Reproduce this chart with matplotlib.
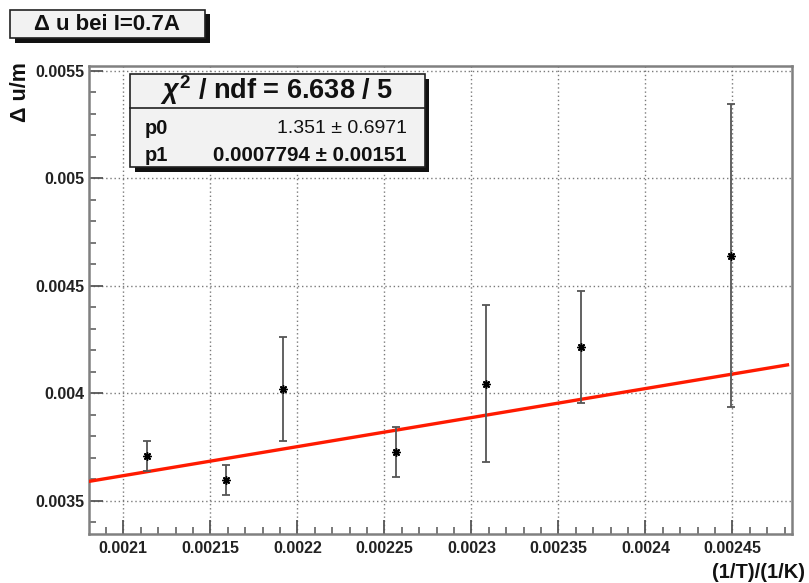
import matplotlib
matplotlib.use("Agg")
import matplotlib.pyplot as plt
from matplotlib.patches import Rectangle
from matplotlib.ticker import FixedLocator, FixedFormatter, MultipleLocator
import numpy as np

plt.rcParams['font.family'] = ['Liberation Sans', 'DejaVu Sans']
plt.rcParams['font.weight'] = 'bold'
plt.rcParams['mathtext.fontset'] = 'custom'
plt.rcParams['mathtext.rm'] = 'Liberation Sans:bold'
plt.rcParams['mathtext.it'] = 'Liberation Sans:italic:bold'
plt.rcParams['mathtext.bf'] = 'Liberation Sans:bold'

# ---- data ----
inv_T = [0.0021138, 0.0021590, 0.0021919, 0.0022564, 0.0023085, 0.0023629, 0.0024494]
delta_u = [0.003708, 0.003596, 0.004019, 0.003725, 0.004045, 0.004216, 0.004641]
delta_u_err = [0.000072, 0.0000715, 0.000241, 0.000117, 0.000366, 0.000262, 0.000706]

fit_p0 = 1.351        # slope
fit_p1 = 0.0007794    # intercept
fit_p0_err = 0.6971
fit_p1_err = 0.00151
chi2 = 6.638
ndf = 5

x_ticks = [0.0021, 0.00215, 0.0022, 0.00225, 0.0023, 0.00235, 0.0024, 0.00245]
x_tick_labels = ["0.0021", "0.00215", "0.0022", "0.00225", "0.0023", "0.00235", "0.0024", "0.00245"]
y_ticks = [0.0035, 0.004, 0.0045, 0.005, 0.0055]
y_tick_labels = ["0.0035", "0.004", "0.0045", "0.005", "0.0055"]

title = "\u0394 u bei I=0.7A"
x_title = "(1/T)/(1/K)"
y_title = "\u0394 u/m"

x_range = (0.0020803, 0.0024839)
y_range = (0.003345, 0.005523)

# ---- figure ----
W, H = 809, 583
fig = plt.figure(figsize=(W / 100, H / 100), dpi=100)
fig.patch.set_facecolor('white')

def fx(px):
    return px / W

def fy(py):
    return 1 - py / H

ax_l, ax_r, ax_t, ax_b = 89, 791.5, 66, 534
ax = fig.add_axes([fx(ax_l), fy(ax_b), fx(ax_r) - fx(ax_l), fy(ax_t) - fy(ax_b)])
ax.set_xlim(*x_range)
ax.set_ylim(*y_range)

for sp in ax.spines.values():
    sp.set_color('#808080')
    sp.set_linewidth(1.8)

ax.xaxis.set_major_locator(FixedLocator(x_ticks))
ax.xaxis.set_major_formatter(FixedFormatter(x_tick_labels))
ax.xaxis.set_minor_locator(MultipleLocator(0.00001))
ax.yaxis.set_major_locator(FixedLocator(y_ticks))
ax.yaxis.set_major_formatter(FixedFormatter(y_tick_labels))
ax.yaxis.set_minor_locator(MultipleLocator(0.0001))

ax.tick_params(axis='both', which='major', direction='in', length=10, width=1.3,
               color='#555555', labelsize=11.5, pad=3)
ax.tick_params(axis='both', which='minor', direction='in', length=5, width=1.1,
               color='#555555')
ax.tick_params(axis='x', which='major', pad=5)
for lab in ax.get_xticklabels() + ax.get_yticklabels():
    lab.set_fontweight('bold')
    lab.set_color('#222222')

ax.grid(True, which='major', linestyle=(0, (1, 2)), color='#7a7a7a', linewidth=1.0)
ax.set_axisbelow(True)

# fit line
xl = np.array([x_range[0], 0.0024816])
ax.plot(xl, fit_p1 + fit_p0 * xl, color='#ff1a00', linewidth=2.4, zorder=3)

# data points
ax.errorbar(inv_T, delta_u, yerr=delta_u_err, fmt='none', ecolor='#555555',
            elinewidth=1.3, capsize=3, capthick=1.3, zorder=4)
ax.plot(inv_T, delta_u, linestyle='none', marker=(8, 2, 0), markersize=6,
        markeredgewidth=1.0, color='black', zorder=5)
ax.plot(inv_T, delta_u, linestyle='none', marker='s', markersize=2.5,
        color='black', zorder=5)

# axis titles
fig.text(fx(805), fy(573), x_title, ha='right', va='center', fontsize=14.5,
         fontweight='bold', color='#111111')
fig.text(fx(21), fy(62), y_title, ha='center', va='top', rotation=90, fontsize=15.5,
         fontweight='bold', color='#111111')

# title box with shadow
def box(x0, y0, x1, y1, sh=4.5, fc='#f2f2f2'):
    fig.patches.append(Rectangle((fx(x0 + sh), fy(y1 + sh)), fx(x1 - x0), fy(y0) - fy(y1),
                                 transform=fig.transFigure, facecolor='#111111',
                                 edgecolor='none', zorder=10))
    fig.patches.append(Rectangle((fx(x0), fy(y1)), fx(x1 - x0), fy(y0) - fy(y1),
                                 transform=fig.transFigure, facecolor=fc,
                                 edgecolor='#222222', linewidth=1.2, zorder=11))

box(10, 10, 205, 38)
fig.text(fx(107), fy(24.5), title, ha='center', va='center', fontsize=16,
         fontweight='bold', color='#111111', zorder=12)

# stats box
box(130, 74, 425, 167)
fig.lines.append(plt.Line2D([fx(130), fx(425)], [fy(107.5), fy(107.5)],
                            transform=fig.transFigure, color='#222222',
                            linewidth=1.2, zorder=12))
fig.text(fx(277), fy(90), r"$\chi^{2}$ / ndf = %.3f / %d" % (chi2, ndf), ha='center',
         va='center', fontsize=19.5, fontweight='bold', color='#111111', zorder=12)
fig.text(fx(145), fy(128), "p0", ha='left', va='center', fontsize=14.5,
         fontweight='bold', color='#111111', zorder=12)
fig.text(fx(407), fy(128), "%.3f \u00b1 %.4f" % (fit_p0, fit_p0_err), ha='right',
         va='center', fontsize=14, fontweight='normal', color='#111111', zorder=12)
fig.text(fx(145), fy(155), "p1", ha='left', va='center', fontsize=14.5,
         fontweight='bold', color='#111111', zorder=12)
fig.text(fx(407), fy(155), "%.7f \u00b1 %.5f" % (fit_p1, fit_p1_err), ha='right',
         va='center', fontsize=14.8, fontweight='bold', color='#111111', zorder=12)

fig.savefig("out.png", dpi=100)
